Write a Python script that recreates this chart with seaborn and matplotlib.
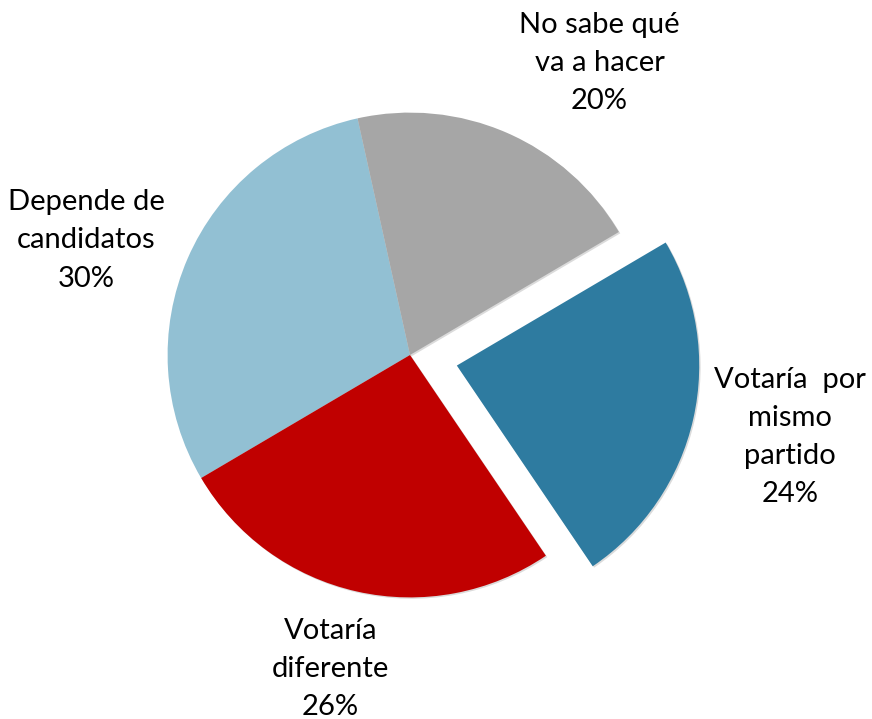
import numpy as np
import matplotlib
matplotlib.use('Agg')
import matplotlib.pyplot as plt
import matplotlib.patheffects as pe
import seaborn as sns

sns.set_theme(style='white')
plt.rcParams['font.family'] = ['Lato', 'DejaVu Sans']

labels = ['Depende de\ncandidatos', 'Votaría\ndiferente', 'Votaría  por\nmismo\npartido', 'No sabe qué\nva a hacer']
values = [30, 26, 24, 20]
colors = ['#92C0D3', '#C00000', '#2E7BA0', '#A6A6A6']
explode = [0, 0, 0.2, 0]

# label placement: distance from slice centre (in radii) and angle shift (deg)
label_dist = [1.43, 1.35, 1.42, 1.45]
label_shift = [4, -1.5, 0.6, -9.5]

fig = plt.figure(figsize=(8.72, 7.19), dpi=100)
ax = fig.add_axes([0, 0, 1, 1])

wedges, _ = ax.pie(values, colors=colors, explode=explode, startangle=102.5,
                   counterclock=True, radius=1.01,
                   wedgeprops=dict(linewidth=0))
for w in wedges:
    w.set_path_effects([pe.SimplePatchShadow(offset=(1, -1), shadow_rgbFace='#888888', alpha=0.3),
                        pe.Normal()])

for w, lab, v, d, s in zip(wedges, labels, values, label_dist, label_shift):
    mid = np.deg2rad((w.theta1 + w.theta2) / 2 + s)
    cx, cy = w.center
    ax.text(cx + d * np.cos(mid), cy + d * np.sin(mid), f'{lab}\n{v}%',
            ha='center', va='center', fontsize=21, color='black', linespacing=1.58)

# center of pie at ~(410, 355) px, radius ~240 px
ax.set_xlim(-410 / 240, (872 - 410) / 240)
ax.set_ylim(-(719 - 355) / 240, 355 / 240)
ax.set_aspect('equal')
ax.axis('off')

fig.savefig('out.png', dpi=100)
